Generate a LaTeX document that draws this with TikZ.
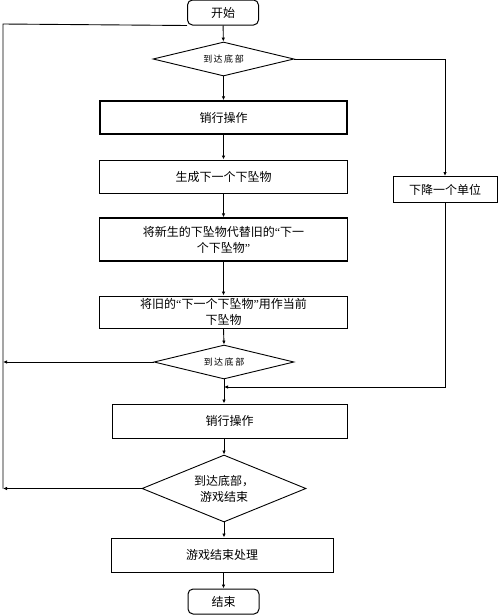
\documentclass[tikz,border=0pt]{standalone}
\usepackage{fontspec}
\setmainfont{Liberation Serif}
\newfontfamily\cjk{Noto Sans CJK SC}
\newcommand\myqo{{\rmfamily “}}
\newcommand\myqc{{\rmfamily ”}}
\usetikzlibrary{shapes.geometric,arrows.meta}
\begin{document}
\begin{tikzpicture}[x=1pt,y=-1pt,
  every node/.style={font=\cjk\fontsize{12}{16}\selectfont},
  box/.style={draw, line width=1pt, rectangle, inner sep=0pt, align=center},
  term/.style={draw, line width=1pt, rectangle, rounded corners=5pt, inner sep=0pt, minimum width=71pt, minimum height=25pt},
  dec/.style={draw, line width=0.9pt, diamond, shape aspect=2.5, inner sep=0pt, align=center},
  arr/.style={line width=0.9pt, -{Latex[length=4pt,width=3.5pt]}},
  ln/.style={line width=0.9pt}]
\useasboundingbox (0,0) rectangle (500,616);
\node[term] (start) at (223,12.5) {开始};
\node[dec, minimum width=141pt, minimum height=34pt, font=\cjk\fontsize{9}{10}\selectfont] (d1) at (223.5,59) {到\,达\,底\,部};
\node[box, line width=1.5pt, minimum width=247pt, minimum height=33pt] (b1) at (223.5,117.5) {销行操作};
\node[box, minimum width=248pt, minimum height=33pt] (b2) at (223.5,176.5) {生成下一个下坠物};
\node[box, line width=1.3pt, minimum width=248pt, minimum height=43pt] (b3) at (223.5,239.5) {将新生的下坠物代替旧的\myqo 下一\\个下坠物\myqc};
\node[box, minimum width=248pt, minimum height=32pt] (b4) at (223.5,312) {将旧的\myqo 下一个下坠物\myqc 用作当前\\下坠物};
\node[dec, minimum width=140pt, minimum height=34pt, font=\cjk\fontsize{9}{10}\selectfont] (d2) at (224,362) {到\,达\,底\,部};
\node[box, minimum width=235pt, minimum height=34pt] (b5) at (229.5,421) {销行操作};
\node[dec, minimum width=164pt, minimum height=67pt] (d3) at (224,488.5) {到达底部，\\游戏结束};
\node[box, minimum width=222pt, minimum height=34pt] (b6) at (222,555) {游戏结束处理};
\node[term] (end) at (223.5,601.5) {结束};
\node[box, minimum width=104pt, minimum height=26pt] (r) at (445,189.5) {下降一个单位};
\coordinate (ltop) at (3,24);
\coordinate (lbot) at (3,488.5);
\coordinate (m) at (224,387);
\draw[arr] (start) -- (d1);
\draw[arr] (d1) -- (b1);
\draw[arr] (b1) -- (b2);
\draw[arr] (b2) -- (b3);
\draw[arr] (b3) -- (b4);
\draw[arr] (b4.south) -- (d2.north);
\draw[arr] (d2.south) -- (b5.north -| d2.south);
\draw[arr] (b5.south -| d3.north) -- (d3.north);
\draw[arr] (d3.south) -- (b6.north -| d3.south);
\draw[arr] (b6.south -| end.north) -- (end.north);
\draw[arr] (d1.east) -| (r.north);
\draw[arr] (r.south) |- (m);
\draw[ln] (start.south west) -- (ltop) -- (lbot);
\draw[arr] (d2.west) -- (d2.west -| ltop);
\draw[arr] (d3.west) -- (lbot);
\end{tikzpicture}
\end{document}
